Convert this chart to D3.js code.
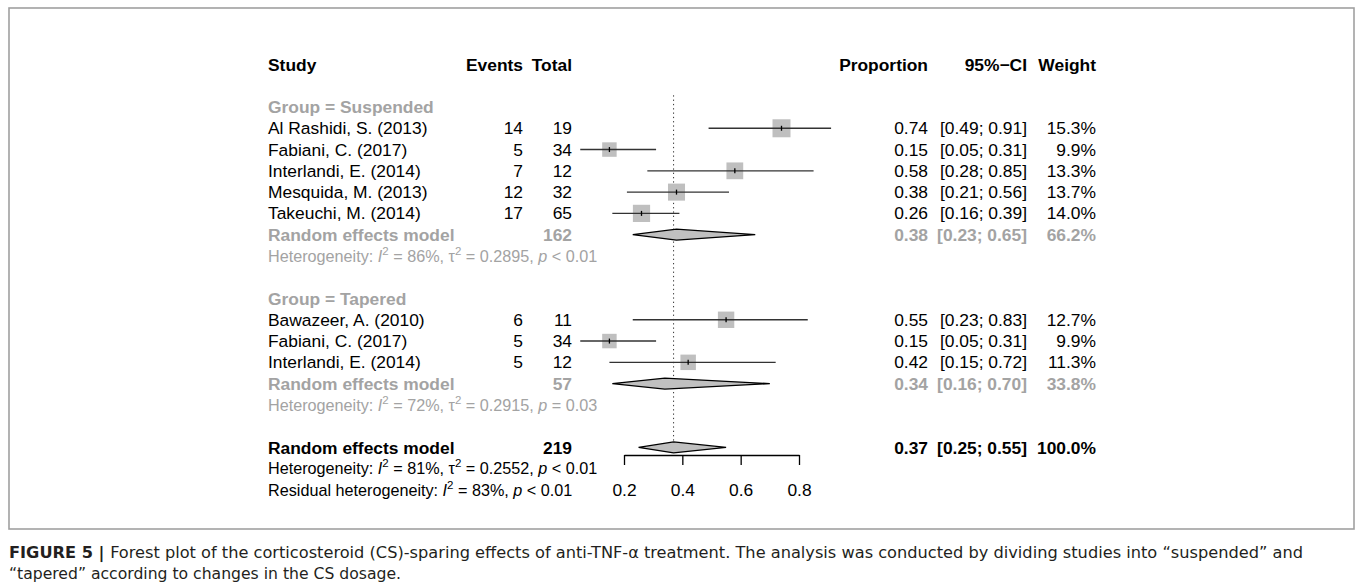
<!DOCTYPE html>
<html>
<head>
<meta charset="utf-8">
<script src="https://cdn.jsdelivr.net/npm/d3@7"></script>
<style>
  body { margin: 0; background: #fff; }
  svg { display: block; }
</style>
</head>
<body>
<svg id="chart" width="1357" height="587"></svg>
<script>
const groups = ['Suspended', 'Tapered'];
const studies = ['Al Rashidi, S. (2013)', 'Fabiani, C. (2017)', 'Interlandi, E. (2014)', 'Mesquida, M. (2013)', 'Takeuchi, M. (2014)',
  'Bawazeer, A. (2010)', 'Fabiani, C. (2017)', 'Interlandi, E. (2014)'];
const studyGroup = [0, 0, 0, 0, 0, 1, 1, 1];
const events = [14, 5, 7, 12, 17, 6, 5, 5];
const totals = [19, 34, 12, 32, 65, 11, 34, 12];
const proportions = [0.74, 0.15, 0.58, 0.38, 0.26, 0.55, 0.15, 0.42];
const lowerCI = [0.49, 0.05, 0.28, 0.21, 0.16, 0.23, 0.05, 0.15];
const upperCI = [0.91, 0.31, 0.85, 0.56, 0.39, 0.83, 0.31, 0.72];
const weights = [15.3, 9.9, 13.3, 13.7, 14.0, 12.7, 9.9, 11.3];

const groupTotals = [162, 57];
const groupProportions = [0.38, 0.34];
const groupLower = [0.23, 0.16];
const groupUpper = [0.65, 0.70];
const groupWeights = [66.2, 33.8];
const groupI2 = ['86%', '72%'];
const groupTau2 = ['0.2895', '0.2915'];
const groupP = ['< 0.01', '= 0.03'];

const overallTotal = 219;
const overallProportion = 0.37;
const overallLower = 0.25;
const overallUpper = 0.55;
const overallWeight = 100.0;
const overallI2 = '81%';
const overallTau2 = '0.2552';
const overallP = '< 0.01';
const residualI2 = '83%';
const residualP = '< 0.01';

const axisTicks = [0.2, 0.4, 0.6, 0.8];

const captionLines = [
  ['FIGURE 5 | ', 'Forest plot of the corticosteroid (CS)-sparing effects of anti-TNF-\u03b1 treatment. The analysis was conducted by dividing studies into \u201csuspended\u201d and'],
  ['', '\u201ctapered\u201d according to changes in the CS dosage.'],
];

const GREY = '#a3a3a3';
const FONT = '"Liberation Sans", Arial, Helvetica, sans-serif';
const FS = 17.4;

const col = {
  study: 268,
  events: 523,
  total: 572,
  prop: 928,
  ci: 1027,
  weight: 1096,
};

const svg = d3.select('#chart');

svg.append('rect')
  .attr('x', 9)
  .attr('y', 8)
  .attr('width', 1345)
  .attr('height', 521)
  .attr('fill', 'none')
  .attr('stroke', '#a0a0a0')
  .attr('stroke-width', 1.6);

const x = d3.scaleLinear()
  .domain([0.2, 0.8])
  .range([624, 799]);

const y = d3.scaleLinear()
  .domain([0, 18])
  .range([107, 490]);

const side = d3.scaleSqrt()
  .domain([0, 15.3])
  .range([0, 18]);

const f2 = d3.format('.2f');
const pct = v => `${d3.format('.1f')(v)}%`;
const ciText = (lo, hi) => `[${f2(lo)}; ${f2(hi)}]`;

const g = svg.append('g')
  .attr('font-family', FONT)
  .attr('font-size', FS);

const txt = (xPos, row, s, opts = {}) => g.append('text')
  .attr('x', xPos)
  .attr('y', y(row))
  .attr('dy', '0.35em')
  .attr('text-anchor', opts.anchor || 'end')
  .attr('font-weight', opts.bold ? 'bold' : 'normal')
  .attr('fill', opts.color || '#000')
  .text(s);

// plotmath-like line: italic I and p, superscript 2
const hetLine = (row, color, segs) => {
  const t = g.append('text')
    .attr('x', col.study)
    .attr('y', y(row))
    .attr('dy', '0.35em')
    .attr('font-size', 16.2)
    .attr('fill', color);
  let raised = false;
  segs.forEach(([s, kind]) => {
    const ts = t.append('tspan').text(s);
    if (kind === 'i') ts.attr('font-style', 'italic');
    if (kind === 'sup') {
      ts.attr('font-size', 11.5).attr('dy', -7);
      raised = true;
    } else if (raised) {
      ts.attr('dy', 7);
      raised = false;
    }
  });
};

// header
txt(col.study, -2, 'Study', { anchor: 'start', bold: true });
txt(col.events, -2, 'Events', { bold: true });
txt(col.total, -2, 'Total', { bold: true });
txt(col.prop, -2, 'Proportion', { bold: true });
txt(col.ci, -2, '95%\u2212CI', { bold: true });
txt(col.weight, -2, 'Weight', { bold: true });

// reference line at the overall estimate
g.append('line')
  .attr('x1', x(overallProportion))
  .attr('x2', x(overallProportion))
  .attr('y1', y(-0.55))
  .attr('y2', y(16) + 5)
  .attr('stroke', '#333')
  .attr('stroke-width', 1)
  .attr('stroke-dasharray', '1.3,3');

const diamond = (row, est, lo, hi) => {
  const cy = y(row);
  const h = 5.5;
  g.append('path')
    .attr('d', `M${x(lo)},${cy}L${x(est)},${cy - h}L${x(hi)},${cy}L${x(est)},${cy + h}Z`)
    .attr('fill', '#c0c0c0')
    .attr('stroke', '#000')
    .attr('stroke-width', 1.3);
};

let row = 0;
groups.forEach((grp, gi) => {
  txt(col.study, row, `Group = ${grp}`, { anchor: 'start', bold: true, color: GREY });
  row++;

  studies.forEach((name, i) => {
    if (studyGroup[i] !== gi) return;
    const cy = y(row);
    const s = side(weights[i]);

    txt(col.study, row, name, { anchor: 'start' });
    txt(col.events, row, events[i]);
    txt(col.total, row, totals[i]);
    txt(col.prop, row, f2(proportions[i]));
    txt(col.ci, row, ciText(lowerCI[i], upperCI[i]));
    txt(col.weight, row, pct(weights[i]));

    g.append('rect')
      .attr('x', x(proportions[i]) - s / 2)
      .attr('y', cy - s / 2)
      .attr('width', s)
      .attr('height', s)
      .attr('fill', '#bfbfbf');

    g.append('line')
      .attr('x1', x(lowerCI[i]))
      .attr('x2', x(upperCI[i]))
      .attr('y1', cy)
      .attr('y2', cy)
      .attr('stroke', '#333')
      .attr('stroke-width', 1.4);

    g.append('line')
      .attr('x1', x(proportions[i]))
      .attr('x2', x(proportions[i]))
      .attr('y1', cy - 2.5)
      .attr('y2', cy + 2.5)
      .attr('stroke', '#000')
      .attr('stroke-width', 1.3);

    row++;
  });

  txt(col.study, row, 'Random effects model', { anchor: 'start', bold: true, color: GREY });
  txt(col.total, row, groupTotals[gi], { bold: true, color: GREY });
  txt(col.prop, row, f2(groupProportions[gi]), { bold: true, color: GREY });
  txt(col.ci, row, ciText(groupLower[gi], groupUpper[gi]), { bold: true, color: GREY });
  txt(col.weight, row, pct(groupWeights[gi]), { bold: true, color: GREY });
  diamond(row, groupProportions[gi], groupLower[gi], groupUpper[gi]);
  row++;

  hetLine(row, GREY, [
    ['Heterogeneity: '], ['I', 'i'], ['2', 'sup'], [` = ${groupI2[gi]}, `], ['\u03c4'], ['2', 'sup'],
    [` = ${groupTau2[gi]}, `], ['p', 'i'], [` ${groupP[gi]}`],
  ]);
  row += 2;
});

txt(col.study, row, 'Random effects model', { anchor: 'start', bold: true });
txt(col.total, row, overallTotal, { bold: true });
txt(col.prop, row, f2(overallProportion), { bold: true });
txt(col.ci, row, ciText(overallLower, overallUpper), { bold: true });
txt(col.weight, row, pct(overallWeight), { bold: true });
diamond(row, overallProportion, overallLower, overallUpper);
row++;

hetLine(row, '#000', [
  ['Heterogeneity: '], ['I', 'i'], ['2', 'sup'], [` = ${overallI2}, `], ['\u03c4'], ['2', 'sup'],
  [` = ${overallTau2}, `], ['p', 'i'], [` ${overallP}`],
]);
row++;

hetLine(row, '#000', [
  ['Residual heterogeneity: '], ['I', 'i'], ['2', 'sup'], [` = ${residualI2}, `], ['p', 'i'], [` ${residualP}`],
]);

const axis = svg.append('g')
  .attr('transform', 'translate(0,455)')
  .call(d3.axisBottom(x).tickValues(axisTicks).tickFormat(d3.format('.1f')).tickSize(10).tickSizeOuter(0).tickPadding(19));

axis.attr('font-family', FONT).attr('font-size', FS);
axis.selectAll('path, line').attr('stroke', '#000').attr('stroke-width', 1.3);
axis.selectAll('text').attr('fill', '#000');

// caption
const CAP_FONT = '"Liberation Sans Narrow", "DejaVu Sans Condensed", "Liberation Sans", sans-serif';
const capWidths = [1294, 392];
captionLines.forEach(([boldPart, rest], i) => {
  const t = svg.append('text')
    .attr('x', 9)
    .attr('y', 558 + i * 21)
    .attr('font-family', CAP_FONT)
    .attr('font-size', 16.5)
    .attr('fill', '#231f20');
  if (boldPart) t.append('tspan').attr('font-weight', 'bold').text(boldPart);
  t.append('tspan').text(rest);
  t.attr('textLength', capWidths[i]).attr('lengthAdjust', 'spacingAndGlyphs');
});
</script>
</body>
</html>
